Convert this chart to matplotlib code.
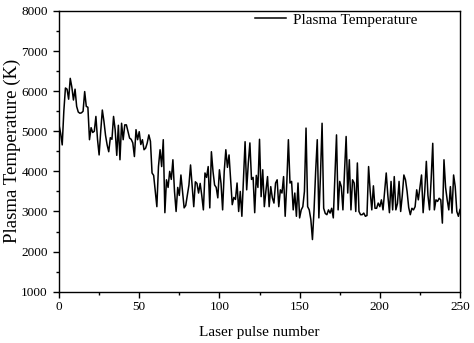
import numpy as np
import matplotlib
matplotlib.use("Agg")
import matplotlib.pyplot as plt
from matplotlib.ticker import MultipleLocator

plt.rcParams['font.family'] = ['Liberation Serif', 'DejaVu Serif']

# plasma temperature (K) for each laser pulse, 0..250
pulse = np.arange(0, 251)
temperature = [
    5160, 4950, 4660, 5500, 6080, 6050, 5800, 6320, 6100, 5780,   # 0-9
    6050, 5620, 5480, 5450, 5460, 5500, 5990, 5620, 5600, 4790,   # 10-19
    5090, 4970, 5000, 5370, 4800, 4410, 5000, 5530, 5250, 4900,   # 20-29
    4660, 4490, 4840, 4800, 5370, 5040, 4400, 5150, 4290, 5200,   # 30-39
    4790, 5160, 5160, 4990, 4830, 4800, 4710, 4370, 5040, 4790,   # 40-49
    4990, 4670, 4790, 4540, 4580, 4710, 4910, 4750, 3960, 3900,   # 50-59
    3500, 3120, 4120, 4540, 4120, 4790, 2970, 3790, 3600, 4000,   # 60-69
    3800, 4290, 3500, 3000, 3600, 3400, 3910, 3500, 3090, 3150,   # 70-79
    3400, 3660, 4160, 3650, 3120, 3740, 3700, 3460, 3700, 3400,   # 80-89
    3040, 3960, 3850, 4120, 3090, 4490, 4000, 3660, 3600, 3340,   # 90-99
    4040, 3700, 3040, 4000, 4540, 4100, 4410, 3800, 3170, 3350,   # 100-109
    3300, 3710, 3000, 3500, 2880, 3800, 4740, 3540, 4200, 4710,   # 110-119
    3800, 3850, 2970, 3900, 3600, 4800, 3370, 4040, 3120, 3520,   # 120-129
    3870, 3120, 3620, 3340, 3210, 3710, 3790, 3120, 3540, 3460,   # 130-139
    3870, 2880, 3700, 4790, 3710, 3750, 3040, 3460, 2880, 3710,   # 140-149
    2840, 3040, 3120, 3500, 5080, 3120, 3040, 2800, 2300, 3040,   # 150-159
    4000, 4790, 2840, 3900, 5200, 3080, 2950, 2920, 3040, 2960,   # 160-169
    3080, 2840, 3900, 4910, 3040, 3750, 3620, 3040, 4000, 4870,   # 170-179
    3460, 4290, 3040, 3790, 3710, 3000, 4210, 3000, 2920, 2920,   # 180-189
    2960, 2880, 2900, 4120, 3500, 3040, 3640, 3080, 3080, 3210,   # 190-199
    3120, 3290, 3040, 3500, 3960, 3400, 2970, 3750, 3040, 3870,   # 200-209
    3040, 3200, 3750, 3000, 3400, 3910, 3790, 3500, 3100, 2920,   # 210-219
    3080, 3040, 3120, 3540, 3290, 3600, 3910, 2970, 3500, 4250,   # 220-229
    3400, 3040, 3800, 4700, 3040, 3290, 3250, 3330, 3290, 2710,   # 230-239
    4290, 3600, 3290, 3040, 3620, 2960, 3910, 3620, 3000, 2880,   # 240-249
    3050,                                                         # 250
]

fig = plt.figure(figsize=(4.74, 3.43), dpi=100)
ax = fig.add_axes([0.1245, 0.1496, 0.846, 0.8184])

ax.plot(pulse, temperature, color='black', linewidth=1.1, label='Plasma Temperature')

ax.set_xlim(0, 250)
ax.set_ylim(1000, 8000)
ax.xaxis.set_major_locator(MultipleLocator(50))
ax.xaxis.set_minor_locator(MultipleLocator(25))
ax.yaxis.set_major_locator(MultipleLocator(1000))
ax.yaxis.set_minor_locator(MultipleLocator(500))
ax.tick_params(which='major', direction='out', length=4, width=1, labelsize=9.5)
ax.tick_params(which='minor', direction='out', length=2.5, width=1)
ax.tick_params(axis='x', which='major', pad=3)
ax.tick_params(axis='y', which='major', pad=4)
for s in ax.spines.values():
    s.set_linewidth(1.0)

ax.set_xlabel('Laser pulse number', fontsize=11, labelpad=9)
ax.set_ylabel('Plasma Temperature (K)', fontsize=13.5, labelpad=0)

ax.legend(loc='center right', bbox_to_anchor=(0.91, 0.968), frameon=False,
          fontsize=11, handlelength=2.0, handletextpad=0.5, borderaxespad=0)

fig.savefig('out.png', dpi=100)
